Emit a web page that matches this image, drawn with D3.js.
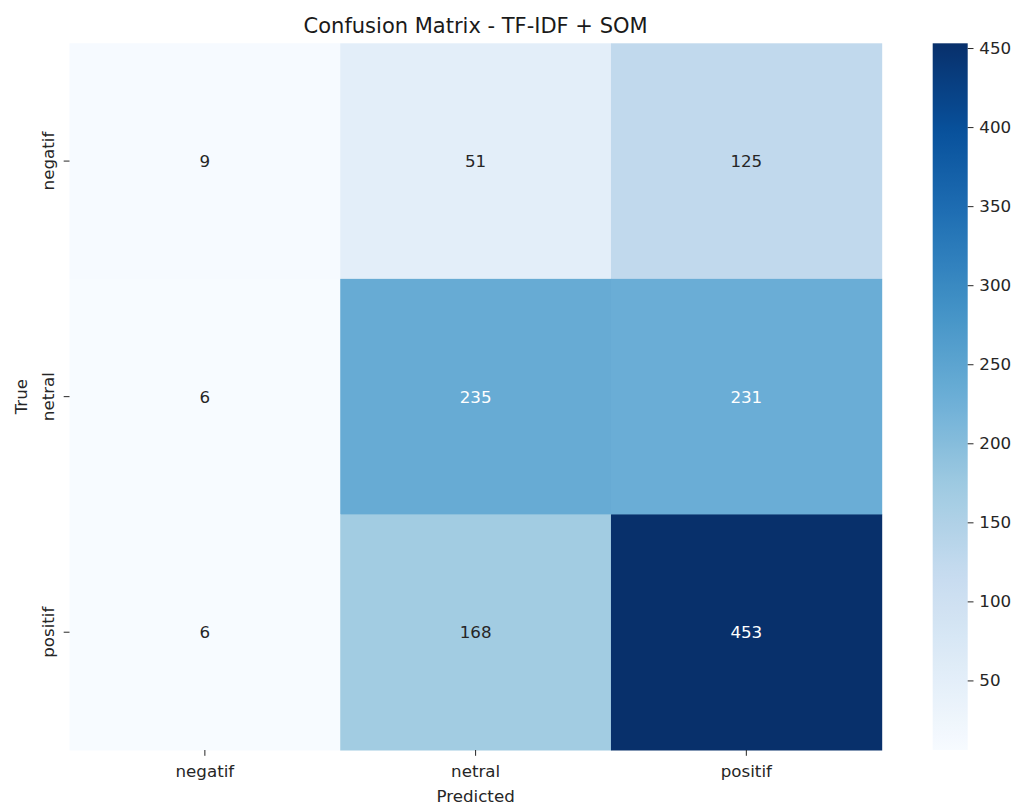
<!DOCTYPE html>
<html>
<head>
<meta charset="utf-8">
<script src="https://cdn.jsdelivr.net/npm/d3@7"></script>
<style>
  html, body { margin: 0; padding: 0; background: #fff; }
  svg { display: block; font-family: "DejaVu Sans", sans-serif; }
</style>
</head>
<body>
<svg id="chart" width="1019" height="805"></svg>
<script>
// Class labels (rows = true, columns = predicted)
const classes = ["negatif", "netral", "positif"];
const rowNegatif = [9, 51, 125];
const rowNetral = [6, 235, 231];
const rowPositif = [6, 168, 453];
const colorbarTicks = [50, 100, 150, 200, 250, 300, 350, 400, 450];

const matrix = [rowNegatif, rowNetral, rowPositif];
const cells = [];
matrix.forEach((row, i) => row.forEach((v, j) => cells.push({ t: classes[i], p: classes[j], v })));

const svg = d3.select("#chart");
const plot = { left: 69.5, top: 43.3, right: 881.7, bottom: 750 };
const cbar = { left: 932.7, right: 967.7 };
const FS = "16.7px";
const TICK = 5.8, PAD = 5.8;

const allVals = cells.map(d => d.v);
const vmin = d3.min(allVals), vmax = d3.max(allVals);

// ColorBrewer Blues, piecewise linear
const bluesStops = ["#f7fbff", "#deebf7", "#c6dbef", "#9ecae1", "#6baed6", "#4292c6", "#2171b5", "#08519c", "#08306b"];
const blues = d3.scaleLinear()
  .domain(bluesStops.map((_, i) => i / (bluesStops.length - 1)))
  .range(bluesStops)
  .interpolate(d3.interpolateRgb);
const norm = d3.scaleLinear().domain([vmin, vmax]).range([0, 1]).clamp(true);
const color = v => blues(norm(v));

const x = d3.scaleBand().domain(classes).range([plot.left, plot.right]);
const y = d3.scaleBand().domain(classes).range([plot.top, plot.bottom]);

// Heatmap cells
svg.append("g").selectAll("rect").data(cells).join("rect")
  .attr("x", d => x(d.p))
  .attr("y", d => y(d.t))
  .attr("width", x.bandwidth() + 0.5)
  .attr("height", y.bandwidth() + 0.5)
  .attr("fill", d => color(d.v));

// Relative luminance to pick annotation colour
function lum(c) {
  const rgb = d3.rgb(c);
  const f = u => { u /= 255; return u <= 0.03928 ? u / 12.92 : Math.pow((u + 0.055) / 1.055, 2.4); };
  return 0.2126 * f(rgb.r) + 0.7152 * f(rgb.g) + 0.0722 * f(rgb.b);
}

svg.append("g").selectAll("text").data(cells).join("text")
  .attr("x", d => x(d.p) + x.bandwidth() / 2)
  .attr("y", d => y(d.t) + y.bandwidth() / 2)
  .attr("text-anchor", "middle")
  .attr("dominant-baseline", "central")
  .attr("font-size", FS)
  .attr("fill", d => lum(color(d.v)) > 0.408 ? "#262626" : "#ffffff")
  .text(d => d.v);

// Axes
const xAxis = svg.append("g")
  .attr("transform", `translate(0,${plot.bottom})`)
  .call(d3.axisBottom(x).tickSize(TICK).tickPadding(PAD));
const yAxis = svg.append("g")
  .attr("transform", `translate(${plot.left},0)`)
  .call(d3.axisLeft(y).tickSize(TICK).tickPadding(PAD));
[xAxis, yAxis].forEach(g => {
  g.select(".domain").remove();
  g.selectAll(".tick line").attr("stroke", "#262626").attr("stroke-width", 1);
  g.selectAll(".tick text").attr("fill", "#262626").attr("font-size", FS)
    .attr("font-family", "DejaVu Sans, sans-serif");
});
xAxis.selectAll(".tick text").attr("dy", null).attr("y", 27);
yAxis.selectAll(".tick text")
  .attr("x", null).attr("dy", null)
  .attr("text-anchor", "middle")
  .attr("transform", "translate(-16,0) rotate(-90)");

// Axis titles and chart title
svg.append("text")
  .attr("x", (plot.left + plot.right) / 2).attr("y", 802)
  .attr("text-anchor", "middle").attr("font-size", FS).attr("fill", "#262626")
  .text("Predicted");
svg.append("text")
  .attr("transform", `translate(27,${(plot.top + plot.bottom) / 2}) rotate(-90)`)
  .attr("text-anchor", "middle").attr("font-size", FS).attr("fill", "#262626")
  .text("True");
svg.append("text")
  .attr("x", (plot.left + plot.right) / 2).attr("y", 33)
  .attr("text-anchor", "middle").attr("font-size", "21px").attr("fill", "#1a1a1a")
  .text("Confusion Matrix - TF-IDF + SOM");

// Colorbar
const defs = svg.append("defs");
const grad = defs.append("linearGradient").attr("id", "cbgrad")
  .attr("x1", 0).attr("y1", 1).attr("x2", 0).attr("y2", 0);
d3.range(0, 1.0001, 0.02).forEach(t => {
  grad.append("stop").attr("offset", t).attr("stop-color", blues(t));
});
svg.append("rect")
  .attr("x", cbar.left).attr("y", plot.top)
  .attr("width", cbar.right - cbar.left).attr("height", plot.bottom - plot.top)
  .attr("fill", "url(#cbgrad)");

const cy = d3.scaleLinear().domain([vmin, vmax]).range([plot.bottom, plot.top]);
const cAxis = svg.append("g")
  .attr("transform", `translate(${cbar.right},0)`)
  .call(d3.axisRight(cy).tickValues(colorbarTicks).tickSize(TICK).tickPadding(PAD));
cAxis.select(".domain").remove();
cAxis.selectAll(".tick line").attr("stroke", "#262626");
cAxis.selectAll(".tick text").attr("fill", "#262626").attr("font-size", FS)
  .attr("font-family", "DejaVu Sans, sans-serif");
</script>
</body>
</html>
